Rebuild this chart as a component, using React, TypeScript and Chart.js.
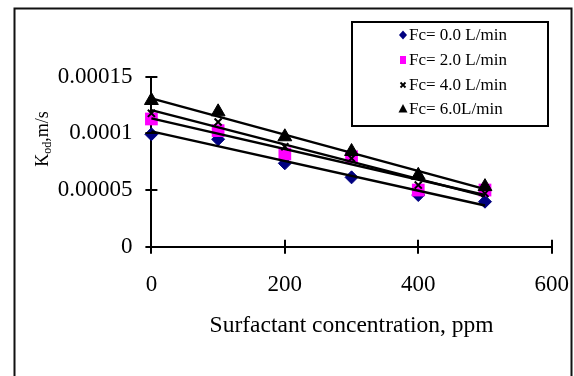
import React, { useEffect, useRef } from 'react';
import { Chart, registerables } from 'chart.js';

Chart.register(...registerables);

const concentrations = [0, 100, 200, 300, 400, 500];
const seriesLabels = ['Fc= 0.0 L/min', 'Fc= 2.0 L/min', 'Fc= 4.0 L/min', 'Fc= 6.0L/min'];
const kodFc00 = [0.0000992, 0.0000948, 0.0000736, 0.0000612, 0.0000456, 0.0000397];
const kodFc20 = [0.0001127, 0.0001024, 0.0000818, 0.0000794, 0.00005, 0.00005];
const kodFc40 = [0.0001177, 0.00011, 0.0000882, 0.000078, 0.0000544, 0.000047];
const kodFc60 = [0.000129, 0.000119, 0.000097, 0.000084, 0.000063, 0.000053];
const xTickLabels = ['0', '200', '400', '600'];
const yTickLabels = ['0', '0.00005', '0.0001', '0.00015'];

const FONT = '"Liberation Serif", "Times New Roman", serif';

const allSeries = [kodFc00, kodFc20, kodFc40, kodFc60];

function pts(ys: number[]) {
  return concentrations.map((x, i) => ({ x, y: ys[i] }));
}

// Excel-style linear (least squares) trendline from the data
function trend(ys: number[]) {
  const n = concentrations.length;
  const mx = concentrations.reduce((a, b) => a + b, 0) / n;
  const my = ys.reduce((a, b) => a + b, 0) / n;
  let sxy = 0;
  let sxx = 0;
  for (let i = 0; i < n; i++) {
    sxy += (concentrations[i] - mx) * (ys[i] - my);
    sxx += (concentrations[i] - mx) ** 2;
  }
  const m = sxy / sxx;
  const b = my - m * mx;
  const x0 = concentrations[0];
  const x1 = concentrations[n - 1];
  return [
    { x: x0, y: b + m * x0 },
    { x: x1, y: b + m * x1 },
  ];
}

const markerStyles = [
  { pointStyle: 'rectRot', radius: 6.5, bg: '#000080', border: '#000080', bw: 1 },
  { pointStyle: 'rect', radius: 9, bg: '#FF00FF', border: '#FF00FF', bw: 0 },
  { pointStyle: 'crossRot', radius: 5, bg: '#000000', border: '#000000', bw: 2 },
  { pointStyle: 'triangle', radius: 8, bg: '#000000', border: '#000000', bw: 1 },
];

function drawLegendSymbol(ctx: CanvasRenderingContext2D, i: number, x: number, y: number) {
  ctx.save();
  ctx.beginPath();
  if (i === 0) {
    ctx.fillStyle = '#000080';
    ctx.moveTo(x - 4, y);
    ctx.lineTo(x, y - 4.5);
    ctx.lineTo(x + 4, y);
    ctx.lineTo(x, y + 4.5);
    ctx.closePath();
    ctx.fill();
  } else if (i === 1) {
    ctx.fillStyle = '#FF00FF';
    ctx.fillRect(x - 3, y - 4, 6, 8);
  } else if (i === 2) {
    ctx.strokeStyle = '#000';
    ctx.lineWidth = 1.8;
    ctx.moveTo(x - 2.5, y - 2.5);
    ctx.lineTo(x + 2.5, y + 2.5);
    ctx.moveTo(x + 2.5, y - 2.5);
    ctx.lineTo(x - 2.5, y + 2.5);
    ctx.stroke();
  } else {
    ctx.fillStyle = '#000';
    ctx.moveTo(x, y - 5);
    ctx.lineTo(x + 4.5, y + 3.5);
    ctx.lineTo(x - 4.5, y + 3.5);
    ctx.closePath();
    ctx.fill();
  }
  ctx.restore();
}

const decorPlugin = {
  id: 'decor',
  beforeDraw(chart: any) {
    const ctx = chart.ctx as CanvasRenderingContext2D;
    ctx.save();
    ctx.fillStyle = '#fff';
    ctx.fillRect(0, 0, chart.width, chart.height);
    ctx.strokeStyle = '#111';
    ctx.lineWidth = 2;
    ctx.strokeRect(14.5, 8.5, 557, 400);
    ctx.restore();
  },
  afterDraw(chart: any) {
    const ctx = chart.ctx as CanvasRenderingContext2D;
    const xs = chart.scales.x;
    const ys = chart.scales.y;
    const area = chart.chartArea;
    ctx.save();
    // crossing tick marks
    ctx.strokeStyle = '#000';
    ctx.lineWidth = 2;
    ctx.beginPath();
    xs.ticks.forEach((t: any) => {
      const px = Math.round(xs.getPixelForValue(t.value));
      ctx.moveTo(px, area.bottom - 7);
      ctx.lineTo(px, area.bottom + 7);
    });
    ys.ticks.forEach((t: any) => {
      const py = Math.round(ys.getPixelForValue(t.value));
      ctx.moveTo(area.left - 6, py);
      ctx.lineTo(area.left + 6, py);
    });
    ctx.stroke();

    // y axis title with subscript
    ctx.translate(47.5, 139);
    ctx.rotate(-Math.PI / 2);
    ctx.fillStyle = '#000';
    ctx.textBaseline = 'alphabetic';
    const big = '18px ' + FONT;
    const small = '12px ' + FONT;
    ctx.font = big;
    const wK = ctx.measureText('K').width;
    const wRest = ctx.measureText(',m/s').width;
    ctx.font = small;
    const wSub = ctx.measureText('od').width;
    const total = wK + wSub + wRest;
    let cx = -total / 2;
    ctx.font = big;
    ctx.fillText('K', cx, 0);
    cx += wK;
    ctx.font = small;
    ctx.fillText('od', cx, 3);
    cx += wSub;
    ctx.font = big;
    ctx.fillText(',m/s', cx, 0);
    ctx.restore();

    // legend box
    ctx.save();
    ctx.fillStyle = '#fff';
    ctx.fillRect(352, 22, 196, 104);
    ctx.strokeStyle = '#000';
    ctx.lineWidth = 2;
    ctx.strokeRect(352, 22, 196, 104);
    const rowsY = [35, 60, 85, 109];
    ctx.font = '17px ' + FONT;
    ctx.fillStyle = '#000';
    ctx.textBaseline = 'middle';
    ctx.textAlign = 'left';
    seriesLabels.forEach((lab, i) => {
      drawLegendSymbol(ctx, i, 403, rowsY[i]);
      ctx.fillStyle = '#000';
      ctx.fillText(lab, 409, rowsY[i] + 1);
    });
    ctx.restore();
  },
};

export default function App() {
  const ref = useRef<HTMLCanvasElement | null>(null);
  useEffect(() => {
    if (!ref.current) return;
    const markerSets = allSeries.map((s, i) => ({
      label: seriesLabels[i],
      data: pts(s),
      showLine: false,
      pointStyle: markerStyles[i].pointStyle as any,
      pointRadius: markerStyles[i].radius,
      pointBackgroundColor: markerStyles[i].bg,
      pointBorderColor: markerStyles[i].border,
      pointBorderWidth: markerStyles[i].bw,
      order: 4 - i,
      clip: false as any,
    }));
    const trendSets = allSeries.map((s, i) => ({
      label: 'trend ' + seriesLabels[i],
      data: trend(s),
      showLine: true,
      borderColor: '#000',
      borderWidth: 2.4,
      pointRadius: 0,
      fill: false,
      order: 0,
      clip: false as any,
    }));
    const chart = new Chart(ref.current, {
      type: 'scatter',
      data: { datasets: [...markerSets, ...trendSets] as any },
      options: {
        responsive: false,
        devicePixelRatio: 1,
        animation: false,
        events: [],
        layout: { autoPadding: false, padding: { left: 0, top: 76.7, right: 22.3, bottom: 36 } },
        plugins: { legend: { display: false }, tooltip: { enabled: false } },
        scales: {
          x: {
            type: 'linear',
            position: 'bottom',
            min: 0,
            max: 600,
            grid: { display: false, drawTicks: false },
            border: { display: true, color: '#000', width: 2 },
            ticks: {
              stepSize: 200,
              padding: 24.5,
              color: '#000',
              font: { family: FONT, size: 23 },
              maxRotation: 0,
              autoSkip: false,
              callback: (_v: any, i: number) => xTickLabels[i],
            },
            title: {
              display: true,
              text: 'Surfactant concentration, ppm',
              color: '#000',
              font: { family: FONT, size: 23.5 },
              padding: 0,
            },
            afterFit: (s: any) => {
              s.height = 93.3;
              s.paddingLeft = 0;
              s.paddingRight = 0;
            },
          },
          y: {
            type: 'linear',
            min: 0,
            max: 0.00015,
            grid: { display: false, drawTicks: false },
            border: { display: true, color: '#000', width: 2 },
            ticks: {
              stepSize: 0.00005,
              padding: 19,
              color: '#000',
              font: { family: FONT, size: 23 },
              autoSkip: false,
              callback: (_v: any, i: number) => yTickLabels[i],
            },
            afterFit: (s: any) => {
              s.width = 151.4;
              s.paddingTop = 0;
              s.paddingBottom = 0;
            },
          },
        },
      },
      plugins: [decorPlugin],
    });
    return () => chart.destroy();
  }, []);
  return (
    <div style={{ position: 'absolute', left: 0, top: 0, width: 574, height: 376, background: '#fff' }}>
      <canvas ref={ref} width={574} height={376} style={{ display: 'block' }} />
    </div>
  );
}
